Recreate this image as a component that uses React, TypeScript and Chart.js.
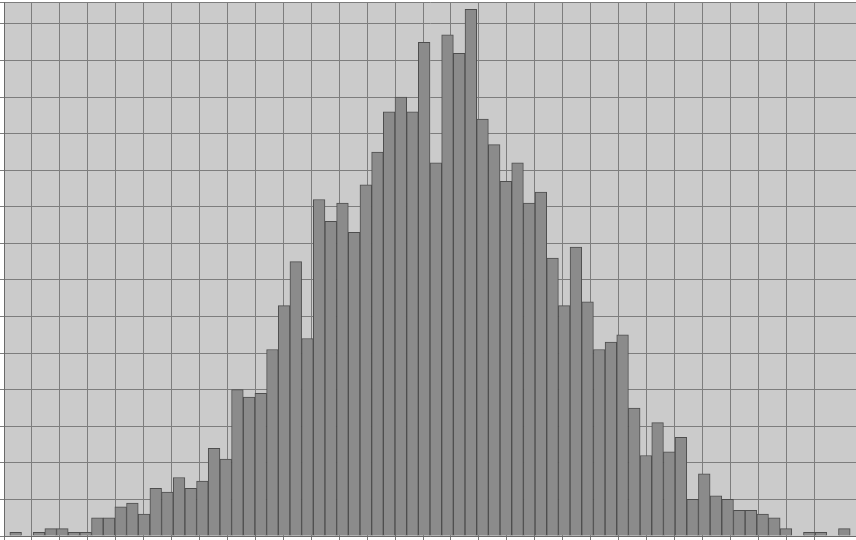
import React, { useEffect, useRef } from "react";
import { Chart, registerables } from "chart.js";

Chart.register(...registerables);

// Histogram bins (bin index, left to right)
const binLabels: number[] = [
  0, 1, 2, 3, 4, 5, 6, 7, 8, 9, 10, 11, 12, 13, 14, 15, 16, 17, 18, 19, 20, 21, 22, 23,
  24, 25, 26, 27, 28, 29, 30, 31, 32, 33, 34, 35, 36, 37, 38, 39, 40, 41, 42, 43, 44, 45, 46, 47,
  48, 49, 50, 51, 52, 53, 54, 55, 56, 57, 58, 59, 60, 61, 62, 63, 64, 65, 66, 67, 68, 69, 70, 71,
];

// Frequency per bin
const binCounts: number[] = [
  1, 0, 1, 2, 2, 1, 1, 5, 5, 8, 9, 6, 13, 12, 16, 13, 15, 24, 21, 40, 38, 39, 51, 63,
  75, 54, 92, 86, 91, 83, 96, 105, 116, 120, 116, 135, 102, 137, 132, 144, 114, 107, 97, 102,
  91, 94, 76, 63, 79, 64, 51, 53, 55, 35, 22, 31, 23, 27, 10, 17, 11, 10, 7, 7, 6, 5, 2, 0,
  1, 1, 0, 2,
];

// Axis ranges (no tick labels are shown in the original)
const yMax = 146;
const yStep = 10;
const gridXMax = 30.5;

const plotBackground = {
  id: "plotBackground",
  beforeDraw(chart: any) {
    const { ctx, chartArea } = chart;
    if (!chartArea) return;
    ctx.save();
    ctx.fillStyle = "#cbcbcb";
    ctx.fillRect(chartArea.left, chartArea.top, chartArea.right - chartArea.left, chartArea.bottom - chartArea.top);
    ctx.restore();
  },
};

export default function App() {
  const ref = useRef<HTMLCanvasElement | null>(null);

  useEffect(() => {
    if (!ref.current) return;
    const gridColor = "#7d7d7d";
    const chart = new Chart(ref.current, {
      type: "bar",
      data: {
        labels: binLabels,
        datasets: [
          {
            label: "Frequency",
            data: binCounts,
            backgroundColor: "#8b8b8b",
            borderColor: "#4e4e4e",
            borderWidth: 1,
            barPercentage: 1,
            categoryPercentage: 1,
          },
        ],
      },
      options: {
        animation: false,
        responsive: true,
        maintainAspectRatio: false,
        layout: { padding: { top: 2, right: 0, left: 0, bottom: 0 } },
        plugins: {
          legend: { display: false },
          tooltip: { enabled: false },
        },
        scales: {
          x: {
            type: "linear",
            display: false,
            offset: false,
            min: -1,
            max: 72,
            grid: { offset: false },
          },
          x2: {
            type: "linear",
            position: "bottom",
            offset: false,
            min: 0,
            max: gridXMax,
            ticks: { display: false, stepSize: 1 },
            grid: { offset: false, color: gridColor, lineWidth: 1, drawTicks: true, tickLength: 4 },
            border: { color: "#6a6a6a", width: 1 },
          },
          y: {
            type: "linear",
            min: 0,
            max: yMax,
            ticks: { display: false, stepSize: yStep },
            grid: { color: gridColor, lineWidth: 1, drawTicks: true, tickLength: 4 },
            border: { color: "#6a6a6a", width: 1 },
          },
        },
      },
      plugins: [plotBackground],
    });
    return () => chart.destroy();
  }, []);

  return (
    <div style={{ position: "absolute", left: 0, top: 0, width: 856, height: 540, background: "#ffffff" }}>
      <canvas ref={ref} />
    </div>
  );
}
